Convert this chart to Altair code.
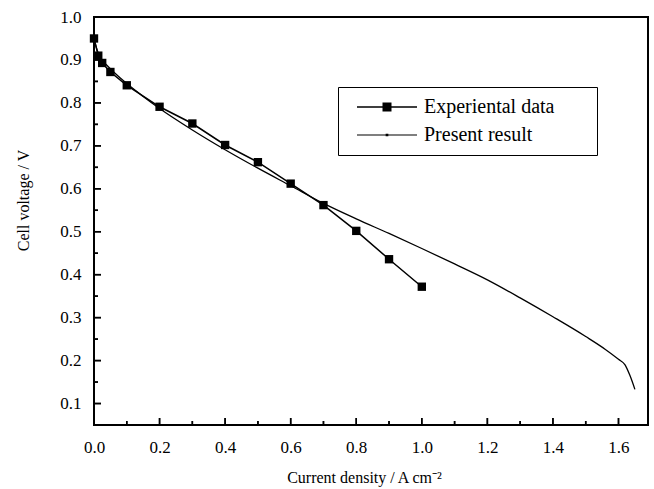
import altair as alt
import pandas as pd

# Experimental data
exp_x = [0.0, 0.013, 0.025, 0.05, 0.1, 0.2, 0.3, 0.4, 0.5, 0.6, 0.7, 0.8, 0.9, 1.0]
exp_y = [0.95, 0.91, 0.893, 0.872, 0.841, 0.791, 0.752, 0.702, 0.662, 0.612, 0.562, 0.502, 0.436, 0.372]

# Model curve (present result)
mod_x = [0.0, 0.005, 0.01, 0.02, 0.04, 0.06, 0.1, 0.15, 0.2, 0.3, 0.4, 0.5, 0.6, 0.7,
         0.8, 0.9, 1.0, 1.1, 1.2, 1.3, 1.4, 1.5, 1.56, 1.6, 1.62, 1.635, 1.65]
mod_y = [0.95, 0.935, 0.922, 0.905, 0.887, 0.872, 0.845, 0.815, 0.787, 0.737, 0.691, 0.648,
         0.607, 0.566, 0.530, 0.496, 0.461, 0.425, 0.388, 0.346, 0.302, 0.256, 0.226, 0.203,
         0.19, 0.165, 0.133]

series_names = ["Experiental data", "Present result"]
x_domain = [0.0, 1.69]
y_domain = [0.05, 1.0]
x_major_ticks = [0.0, 0.2, 0.4, 0.6, 0.8, 1.0, 1.2, 1.4, 1.6]
x_minor_ticks = [0.1, 0.3, 0.5, 0.7, 0.9, 1.1, 1.3, 1.5]
y_major_ticks = [0.1, 0.2, 0.3, 0.4, 0.5, 0.6, 0.7, 0.8, 0.9, 1.0]
y_minor_ticks = [0.15, 0.25, 0.35, 0.45, 0.55, 0.65, 0.75, 0.85, 0.95]

exp_df = pd.DataFrame({"x": exp_x, "y": exp_y, "series": series_names[0]})
mod_df = pd.DataFrame({"x": mod_x, "y": mod_y, "series": series_names[1]})
leg_df = pd.DataFrame({"x": [exp_x[0], mod_x[0]], "y": [exp_y[0], mod_y[0]], "series": series_names})
# tick marks sit on the axis baselines (x axis at y_domain[0], y axis at x_domain[0])
xmaj_df = pd.DataFrame({"x": x_major_ticks, "y": [y_domain[0]] * len(x_major_ticks)})
xmin_df = pd.DataFrame({"x": x_minor_ticks, "y": [y_domain[0]] * len(x_minor_ticks)})
ymaj_df = pd.DataFrame({"x": [x_domain[0]] * len(y_major_ticks), "y": y_major_ticks})
ymin_df = pd.DataFrame({"x": [x_domain[0]] * len(y_minor_ticks), "y": y_minor_ticks})

FONT = "Liberation Serif"
W, H = 554, 408

xscale = alt.Scale(domain=x_domain, nice=False, zero=False)
yscale = alt.Scale(domain=y_domain, nice=False, zero=False)

xaxis = alt.Axis(
    values=x_major_ticks, format=".1f",
    ticks=False, tickSize=0,
    labelPadding=14, labelFlush=False,
    grid=False, domain=False,
    title="Current density / A cm\u207b\u00b2",
    titleX=270, titleY=57, titleBaseline="alphabetic", titleAlign="center",
)
yaxis = alt.Axis(
    values=y_major_ticks, format=".1f",
    ticks=False, tickSize=0,
    labelPadding=13, labelFlush=False,
    grid=False, domain=False,
    title="Cell voltage / V",
    titleX=-66, titleY=183, titleBaseline="alphabetic", titleAlign="center", titleAngle=270,
)

x_enc = alt.X("x:Q", scale=xscale, axis=xaxis)
y_enc = alt.Y("y:Q", scale=yscale, axis=yaxis)

# inward tick marks as filled point symbols anchored on the axis line
# (symbol path scale = sqrt(size)/2 = 7 px per unit)
TICK_SIZE = 196
up_major = "M-0.11,-1H0.11V0H-0.11Z"
up_minor = "M-0.11,-0.57H0.11V0H-0.11Z"
right_major = "M0,-0.11H1V0.11H0Z"
right_minor = "M0,-0.11H0.57V0.11H0Z"


def tick_layer(df, path):
    return alt.Chart(df).mark_point(shape=path, filled=True, size=TICK_SIZE, color="black",
                                    opacity=1).encode(x=x_enc, y=y_enc)


def xrule(df, length):
    return alt.Chart(df).mark_rule(color="black", strokeWidth=1.5).encode(
        x=x_enc, y=alt.value(H), y2=alt.value(H - length))


def yrule(df, length):
    return alt.Chart(df).mark_rule(color="black", strokeWidth=1.5).encode(
        y=y_enc, x=alt.value(0), x2=alt.value(length))


exp_line = alt.Chart(exp_df).mark_line(color="black", strokeWidth=1.5).encode(x=x_enc, y=y_enc)
exp_pts = alt.Chart(exp_df).mark_point(shape="square", filled=True, size=70, color="black", opacity=1).encode(
    x=x_enc, y=y_enc)
mod_line = alt.Chart(mod_df).mark_line(color="black", strokeWidth=1.3, interpolate="monotone").encode(
    x=x_enc, y=y_enc)

# legend symbols: filled thin bar (the line) plus a square / a tiny dot
sym_exp = "M-1,-0.022H1V0.022H-1ZM-0.15,-0.15H0.15V0.15H-0.15Z"
sym_mod = "M-1,-0.02H1V0.02H-1ZM-0.045,-0.045H0.045V0.045H-0.045Z"

legend_layer = alt.Chart(leg_df).mark_point(
    filled=True, fill="black", strokeWidth=0, opacity=0
).encode(
    x=x_enc, y=y_enc,
    shape=alt.Shape("series:N",
                    scale=alt.Scale(domain=series_names, range=[sym_exp, sym_mod]),
                    legend=alt.Legend(
                        title="xxx", titleOrient="right", titleOpacity=0, titleFontSize=20,
                        titlePadding=3,
                        orient="none", legendX=244, legendY=70,
                        padding=6, strokeColor="black", fillColor="white",
                        symbolSize=3600, symbolOpacity=1, symbolFillColor="black",
                        symbolStrokeWidth=0,
                        symbolOffset=13, labelOffset=7, clipHeight=28, rowPadding=0,
                        labelFont=FONT, labelFontSize=20, labelColor="black",
                        labelLimit=400,
                    )),
)

chart = alt.layer(
    mod_line, exp_line, exp_pts,
    tick_layer(xmaj_df, up_major), tick_layer(xmin_df, up_minor),
    tick_layer(ymaj_df, right_major), tick_layer(ymin_df, right_minor),
    xrule(xmaj_df, 7), xrule(xmin_df, 4), yrule(ymaj_df, 7), yrule(ymin_df, 4),
    legend_layer
).properties(
    width=W, height=H,
    background="white",
    autosize=alt.AutoSizeParams(type="none"),
    padding={"left": 94, "top": 17, "right": 6, "bottom": 64},
).configure_view(
    stroke="black", strokeWidth=2
).configure_axis(
    labelFont=FONT, labelFontSize=17, labelColor="black",
    titleFont=FONT, titleFontSize=16, titleColor="black", titleFontWeight="normal",
)

chart.save("out.html", embed_options={"renderer": "svg", "actions": False})
